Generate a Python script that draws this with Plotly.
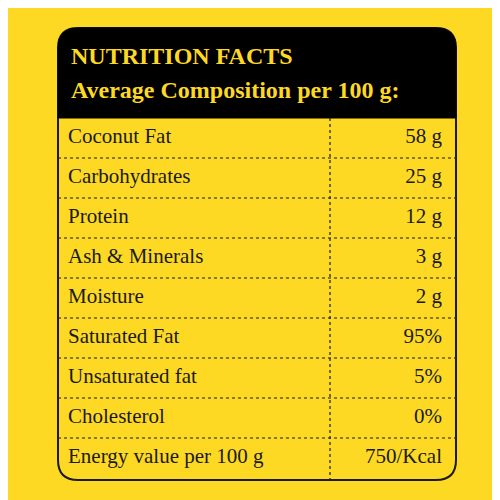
import plotly.graph_objects as go

# table content
nutrients = ["Coconut Fat", "Carbohydrates", "Protein", "Ash & Minerals", "Moisture",
             "Saturated Fat", "Unsaturated fat", "Cholesterol", "Energy value per 100 g"]
amounts = ["58 g", "25 g", "12 g", "3 g", "2 g", "95%", "5%", "0%", "750/Kcal"]
title_lines = ["NUTRITION FACTS", "Average Composition per 100 g:"]

YELLOW = "#FDD923"
INK = "#1a1a1a"
FONT = "Liberation Serif"

rows = list(range(len(nutrients)))
x0, x1, xd = 50, 448, 322
top, hbot, bot, r = -2.75, -0.5, 8.55, 0.5  # y in row units
rx = 20

fig = go.Figure()

# frame outline + header
frame = (f"M {x0},{top + r} Q {x0},{top} {x0 + rx},{top} L {x1 - rx},{top} Q {x1},{top} {x1},{top + r} "
         f"L {x1},{bot - r} Q {x1},{bot} {x1 - rx},{bot} L {x0 + rx},{bot} Q {x0},{bot} {x0},{bot - r} Z")
header = (f"M {x0},{top + r} Q {x0},{top} {x0 + rx},{top} L {x1 - rx},{top} Q {x1},{top} {x1},{top + r} "
          f"L {x1},{hbot} L {x0},{hbot} Z")
shapes = [dict(type="path", path=frame, line=dict(color=INK, width=2), fillcolor=YELLOW, layer="below"),
          dict(type="path", path=header, line=dict(color="black", width=1), fillcolor="black", layer="below")]
for i in rows[:-1]:
    shapes.append(dict(type="line", x0=x0, x1=x1, y0=i + 0.5, y1=i + 0.5, layer="below",
                       line=dict(color=INK, width=1.2, dash="dot")))
shapes.append(dict(type="line", x0=xd, x1=xd, y0=hbot, y1=bot, layer="below",
                   line=dict(color=INK, width=1.2, dash="dot")))

fig.add_trace(go.Scatter(x=[60] * len(rows), y=rows, text=nutrients, mode="text",
                         textposition="middle right",
                         textfont=dict(family=FONT, size=21, color=INK), hoverinfo="skip"))
fig.add_trace(go.Scatter(x=[434] * len(rows), y=rows, text=amounts, mode="text",
                         textposition="middle left",
                         textfont=dict(family=FONT, size=21, color=INK), hoverinfo="skip"))

for k, t in enumerate(title_lines):
    fig.add_annotation(x=61, y=-2.05 + 0.85 * k, text="<b>" + t + "</b>", showarrow=False, xanchor="left",
                       font=dict(family=FONT, size=24, color=YELLOW))

fig.update_layout(width=500, height=500, margin=dict(l=0, r=0, t=0, b=0),
                  paper_bgcolor=YELLOW, plot_bgcolor=YELLOW, showlegend=False, shapes=shapes,
                  xaxis=dict(range=[0, 500], visible=False, fixedrange=True),
                  yaxis=dict(range=[9.25, -3.25], visible=False, fixedrange=True))

fig.write_html("out.html")
